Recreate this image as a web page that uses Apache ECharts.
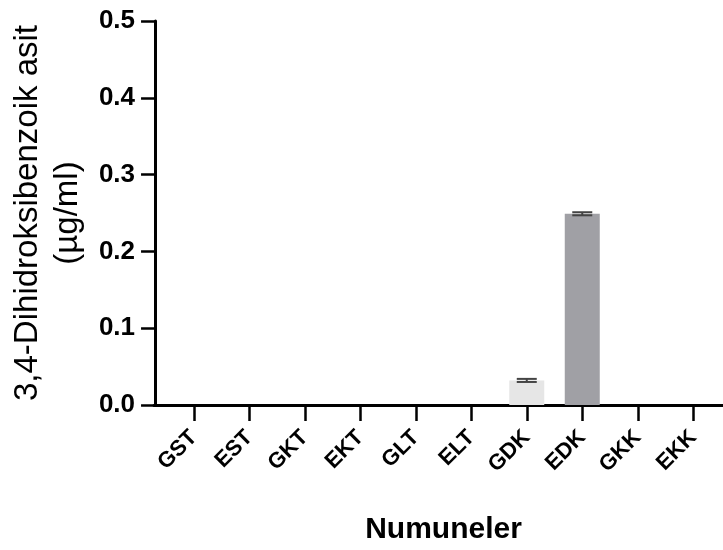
<!DOCTYPE html>
<html>
<head>
<meta charset="utf-8">
<script src="https://cdn.jsdelivr.net/npm/echarts@6/dist/echarts.min.js"></script>
<style>
  html, body { margin: 0; padding: 0; background: #fff; }
  #chart { width: 723px; height: 550px; }
</style>
</head>
<body>
<div id="chart"></div>
<script>
var chartDom = document.getElementById('chart');
var myChart = echarts.init(chartDom);

// samples and measured means (ug/ml), with SD
var samples = ['GST', 'EST', 'GKT', 'EKT', 'GLT', 'ELT', 'GDK', 'EDK', 'GKK', 'EKK'];
var means = [0, 0, 0, 0, 0, 0, 0.032, 0.249, 0, 0];
var errors = [0, 0, 0, 0, 0, 0, 0.002, 0.002, 0, 0];
var yTicks = [0, 0.1, 0.2, 0.3, 0.4, 0.5];

// fill per bar (styling only)
var fills = ['#d9d9d9', '#d9d9d9', '#d9d9d9', '#d9d9d9', '#d9d9d9', '#d9d9d9', '#e6e6e6', '#a0a0a5', '#d9d9d9', '#d9d9d9'];

var font = 'Liberation Sans, Arial, sans-serif';

var errData = [];
for (let i = 0; i < samples.length; i++) {
  if (errors[i] > 0) errData.push([i, means[i] - errors[i], means[i] + errors[i]]);
}

var option = {
  animation: false,
  grid: [
    { left: 165, right: 2, top: 21, bottom: 145 },
    { left: 154, right: 0, top: 21, bottom: 145 }
  ],
  xAxis: [
    {
      type: 'category',
      data: samples,
      gridIndex: 0,
      axisLine: { show: true, lineStyle: { color: '#000', width: 3 } },
      axisTick: { show: true, alignWithLabel: true, length: 16, lineStyle: { color: '#000', width: 2.5 } },
      axisLabel: {
        rotate: 45, margin: 29, color: '#000',
        fontFamily: font, fontWeight: 'bold', fontSize: 22
      },
      name: 'Numuneler',
      nameLocation: 'middle',
      nameGap: 110,
      nameTextStyle: { color: '#000', fontFamily: font, fontWeight: 'bold', fontSize: 30, lineHeight: 30 }
    },
    {
      type: 'value',
      gridIndex: 1,
      min: 0, max: 1,
      axisLine: { show: true, lineStyle: { color: '#000', width: 3 } },
      axisTick: { show: false },
      axisLabel: { show: false },
      splitLine: { show: false }
    }
  ],
  yAxis: [
    {
      type: 'value',
      gridIndex: 0,
      min: yTicks[0],
      max: yTicks[yTicks.length - 1],
      interval: 0.1,
      offset: 11,
      axisLine: { show: true, lineStyle: { color: '#000', width: 3 } },
      axisTick: { show: true, length: 14, lineStyle: { color: '#000', width: 2.5 } },
      splitLine: { show: false },
      axisLabel: {
        margin: 20, color: '#000', fontFamily: font, fontWeight: 'bold', fontSize: 26,
        formatter: function (v) { return v.toFixed(1); }
      },
      name: '3,4-Dihidroksibenzoik asit\n(µg/ml)',
      nameLocation: 'middle',
      nameRotate: 90,
      nameGap: 67,
      nameTextStyle: { color: '#000', fontFamily: font, fontSize: 33, lineHeight: 40 }
    },
    { type: 'value', gridIndex: 1, show: false }
  ],
  series: [
    {
      type: 'bar',
      xAxisIndex: 0,
      yAxisIndex: 0,
      barWidth: 35,
      data: means.map(function (v, i) {
        return { value: v, itemStyle: { color: fills[i] } };
      })
    },
    {
      type: 'custom',
      xAxisIndex: 0,
      yAxisIndex: 0,
      data: errData,
      z: 5,
      renderItem: function (params, api) {
        var x = api.value(0);
        var lo = api.coord([x, api.value(1)]);
        var hi = api.coord([x, api.value(2)]);
        var half = 10;
        var st = { stroke: '#444', lineWidth: 2 };
        return {
          type: 'group',
          children: [
            { type: 'line', shape: { x1: lo[0], y1: lo[1], x2: hi[0], y2: hi[1] }, style: st },
            { type: 'line', shape: { x1: hi[0] - half, y1: hi[1], x2: hi[0] + half, y2: hi[1] }, style: st },
            { type: 'line', shape: { x1: lo[0] - half, y1: lo[1], x2: lo[0] + half, y2: lo[1] }, style: st }
          ]
        };
      }
    }
  ]
};

option && myChart.setOption(option);
</script>
</body>
</html>
